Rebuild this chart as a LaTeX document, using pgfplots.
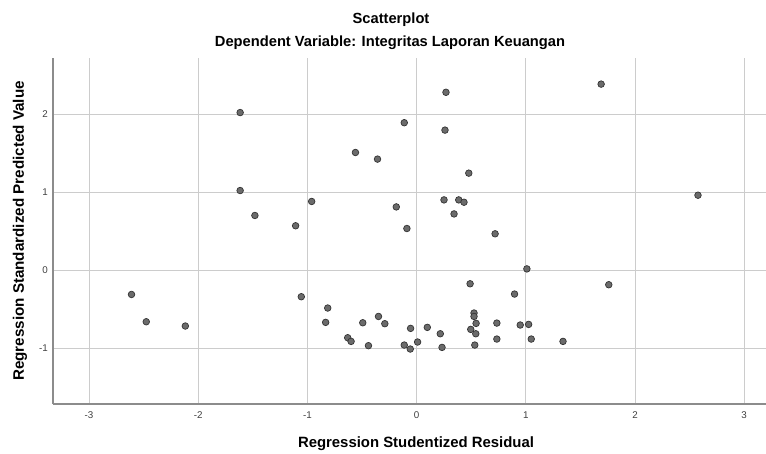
\documentclass[border=0pt]{standalone}
\usepackage{fontspec}
\setmainfont{Liberation Sans}
\usepackage{pgfplots}
\pgfplotsset{compat=1.18}
\begin{document}
\begin{tikzpicture}
\begin{axis}[
  name=ax,
  scale only axis,
  width=713pt, height=346pt,
  xmin=-3.33, xmax=3.20,
  ymin=-1.718, ymax=2.72,
  axis lines*=left,
  axis line style={draw=black!45, line width=1.3pt},
  xtick={-3,-2,-1,0,1,2,3},
  ytick={-1,0,1,2},
  major tick length=0pt,
  grid=major,
  major grid style={draw=black!20, line width=0.9pt},
  /pgf/number format/assume math mode=true,
  tick label style={font=\fontsize{9.8}{11}\selectfont, text=black!75, inner sep=0pt},
  x tick label style={anchor=center, yshift=-11.5pt},
  y tick label style={anchor=east, xshift=-5pt},
  clip=false,
]
\addplot[only marks, mark=*, mark size=3.3pt,
  mark options={fill=black!58, draw=black!80, line width=0.7pt}]
coordinates {
(-1.616,2.02) (-1.616,1.02) (-1.481,0.70) (-1.108,0.568) (-0.961,0.88)
(-0.560,1.508) (-0.358,1.423) (-0.186,0.81) (1.690,2.385) (0.269,2.28)
(-0.113,1.89) (0.260,1.795) (0.478,1.243) (0.251,0.90) (0.386,0.90)
(0.434,0.87) (0.343,0.72) (-0.089,0.533) (0.719,0.465) (2.577,0.96)
(1.010,0.015) (-2.611,-0.313) (-2.476,-0.663) (-2.118,-0.718) (-1.056,-0.342)
(-0.814,-0.487) (-0.833,-0.671) (-0.493,-0.676) (-0.349,-0.595) (-0.291,-0.688)
(-0.631,-0.868) (-0.600,-0.915) (-0.441,-0.970) (-0.055,-0.748) (0.098,-0.735)
(0.217,-0.817) (-0.113,-0.962) (-0.058,-1.013) (0.009,-0.923) (0.233,-0.992)
(0.490,-0.176) (0.526,-0.551) (0.526,-0.595) (0.545,-0.684) (0.496,-0.761)
(0.542,-0.817) (0.533,-0.962) (0.735,-0.680) (0.735,-0.885) (0.897,-0.308)
(0.949,-0.705) (1.026,-0.697) (1.050,-0.885) (1.341,-0.915) (1.760,-0.188)
};
\end{axis}
\node[anchor=base, inner sep=0pt, font=\fontsize{14.7}{17}\selectfont\bfseries]
  at ([shift={(338pt,380.7pt)}]ax.south west) {Scatterplot};
\node[anchor=base, inner sep=0pt, font=\fontsize{14.7}{17}\selectfont\bfseries]
  at ([shift={(337pt,357.3pt)}]ax.south west) {Dependent Variable: Integritas Laporan Keuangan};
\node[anchor=base, inner sep=0pt, font=\fontsize{14.9}{17}\selectfont\bfseries]
  at ([shift={(363pt,-43.3pt)}]ax.south west) {Regression Studentized Residual};
\node[anchor=base, rotate=90, inner sep=0pt, font=\fontsize{15.2}{17}\selectfont\bfseries]
  at ([shift={(-29pt,173pt)}]ax.south west) {Regression Standardized Predicted Value};
\pgfresetboundingbox
\path[use as bounding box] ([shift={(-53pt,-49pt)}]ax.south west) rectangle ([shift={(0pt,58pt)}]ax.north east);
\end{tikzpicture}
\end{document}
